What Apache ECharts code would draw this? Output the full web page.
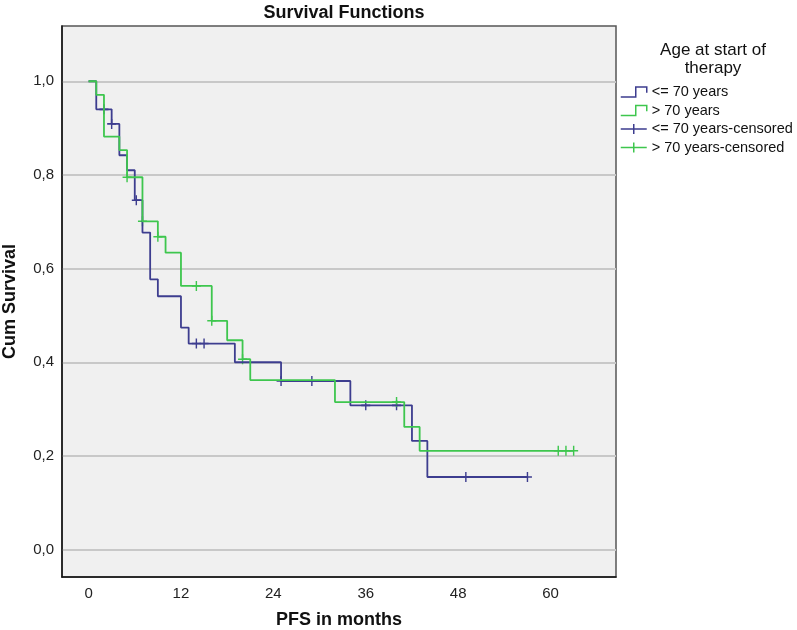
<!DOCTYPE html>
<html>
<head>
<meta charset="utf-8">
<script src="https://cdn.jsdelivr.net/npm/echarts@6/dist/echarts.min.js"></script>
<style>
html,body{margin:0;padding:0;background:#fff;}
#chart{width:797px;height:630px;}
</style>
</head>
<body>
<div id="chart"></div>
<script>
// ---- data ----
const xTicks = [0, 12, 24, 36, 48, 60];
const yTicks = [0, 0.2, 0.4, 0.6, 0.8, 1.0];

const youngTimes = [0, 1, 3, 4, 5, 6, 7, 8, 9, 12, 13, 19, 25, 34, 42, 44, 57];
const youngSurv  = [1.0, 0.940, 0.909, 0.842, 0.810, 0.746, 0.677, 0.577, 0.541, 0.474, 0.440, 0.400, 0.360, 0.308, 0.232, 0.155, 0.155];
const youngCensTimes = [2, 3, 6.2, 14, 15, 25, 29, 36, 40, 49, 57];
const youngCensSurv  = [0.940, 0.909, 0.746, 0.440, 0.440, 0.360, 0.360, 0.308, 0.308, 0.155, 0.155];

const oldTimes = [0, 1, 2, 4, 5, 7, 9, 10, 12, 16, 18, 20, 21, 32, 41, 43, 63];
const oldSurv  = [1.0, 0.971, 0.882, 0.853, 0.795, 0.701, 0.668, 0.634, 0.563, 0.4885, 0.447, 0.4066, 0.362, 0.315, 0.262, 0.211, 0.211];
const oldCensTimes = [5, 7, 9, 14, 16, 20, 40, 61, 62, 63];
const oldCensSurv  = [0.795, 0.701, 0.668, 0.563, 0.4885, 0.4066, 0.315, 0.211, 0.211, 0.211];

const seriesNames = ['<= 70 years', '> 70 years', '<= 70 years-censored', '> 70 years-censored'];
const legendTitle = 'Age at start of\ntherapy';

// ---- styling ----
const BLUE = '#3d3d8f';
const GREEN = '#3ec64e';
const FONT = '"Liberation Sans", Arial, sans-serif';
const zip = (a, b) => a.map((v, i) => [v, b[i]]);
const PLUS = 'path://M5,0 L5,10 M0,5 L10,5';
const STEP_ICON = 'path://M0,9 L15,9 L15,2 L26,2 L26,6';
const CROSS_ICON = 'path://M0,5 L26,5 M13,0 L13,10';

const chart = echarts.init(document.getElementById('chart'), null, {renderer: 'canvas'});
chart.setOption({
  animation: false,
  backgroundColor: '#ffffff',
  title: [
    {
      text: 'Survival Functions',
      left: 339, top: -1, textAlign: 'center',
      textStyle: {fontFamily: FONT, fontSize: 18, fontWeight: 'bold', color: '#111'}
    },
    {
      text: legendTitle,
      left: 708, top: 36, textAlign: 'center',
      textStyle: {fontFamily: FONT, fontSize: 17, fontWeight: 'normal', color: '#111', lineHeight: 18}
    }
  ],
  legend: {
    orient: 'vertical',
    left: 620, top: 84,
    padding: 0,
    itemWidth: 26, itemHeight: 10,
    itemGap: 2.5,
    symbolKeepAspect: false,
    textStyle: {fontFamily: FONT, fontSize: 14.5, color: '#111', lineHeight: 16},
    data: [
      {name: seriesNames[0], icon: STEP_ICON, itemStyle: {color: 'transparent', borderColor: BLUE, borderWidth: 1.5}},
      {name: seriesNames[1], icon: STEP_ICON, itemStyle: {color: 'transparent', borderColor: GREEN, borderWidth: 1.5}},
      {name: seriesNames[2], icon: CROSS_ICON, itemStyle: {color: 'transparent', borderColor: BLUE, borderWidth: 1.5}},
      {name: seriesNames[3], icon: CROSS_ICON, itemStyle: {color: 'transparent', borderColor: GREEN, borderWidth: 1.5}}
    ]
  },
  grid: {
    left: 62, right: 181, top: 26, bottom: 53,
    show: true, backgroundColor: '#f0f0f0',
    borderColor: '#555', borderWidth: 1.5,
    containLabel: false,
    outerBoundsMode: 'none'
  },
  xAxis: {
    type: 'value',
    min: -3.45, max: 68.5,
    name: 'PFS in months',
    nameLocation: 'middle', nameGap: 34,
    nameTextStyle: {fontFamily: FONT, fontSize: 18, fontWeight: 'bold', color: '#111'},
    axisLine: {show: true, onZero: false, lineStyle: {color: '#111', width: 1.5}},
    axisTick: {show: false, customValues: xTicks},
    axisLabel: {customValues: xTicks, margin: 9, fontFamily: FONT, fontSize: 15, color: '#222'},
    splitLine: {show: false}
  },
  yAxis: {
    type: 'value',
    min: -0.0585, max: 1.118,
    name: 'Cum Survival',
    nameLocation: 'middle', nameGap: 43,
    nameTextStyle: {fontFamily: FONT, fontSize: 18, fontWeight: 'bold', color: '#111'},
    axisLine: {show: true, onZero: false, lineStyle: {color: '#111', width: 1.5}},
    axisTick: {show: false, customValues: yTicks},
    axisLabel: {
      customValues: yTicks, margin: 8, fontFamily: FONT, fontSize: 15, color: '#222',
      formatter: v => v.toFixed(1).replace('.', ',')
    },
    splitLine: {show: true, lineStyle: {color: '#c8c8c8', width: 2}}
  },
  series: [
    {
      name: seriesNames[0], type: 'line', step: 'end', symbol: 'none',
      lineStyle: {color: BLUE, width: 1.8}, itemStyle: {color: BLUE},
      data: zip(youngTimes, youngSurv)
    },
    {
      name: seriesNames[1], type: 'line', step: 'end', symbol: 'none',
      lineStyle: {color: GREEN, width: 1.8}, itemStyle: {color: GREEN},
      data: zip(oldTimes, oldSurv)
    },
    {
      name: seriesNames[2], type: 'scatter', symbol: PLUS, symbolSize: [9, 10],
      itemStyle: {color: 'transparent', borderColor: BLUE, borderWidth: 1.5, opacity: 1},
      data: zip(youngCensTimes, youngCensSurv)
    },
    {
      name: seriesNames[3], type: 'scatter', symbol: PLUS, symbolSize: [9, 10],
      itemStyle: {color: 'transparent', borderColor: GREEN, borderWidth: 1.5, opacity: 1},
      data: zip(oldCensTimes, oldCensSurv)
    }
  ]
});
</script>
</body>
</html>
